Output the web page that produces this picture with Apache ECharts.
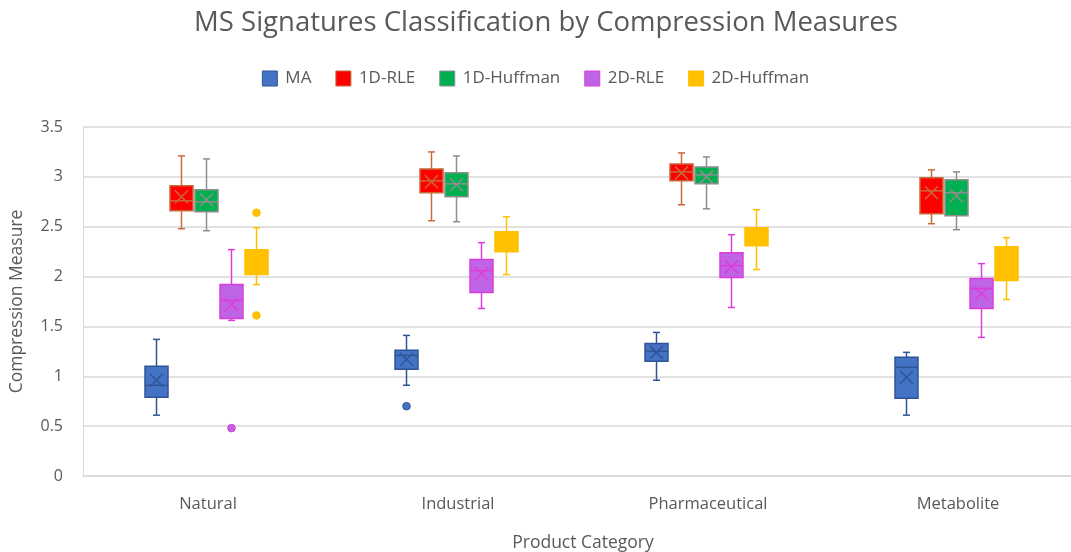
<!DOCTYPE html>
<html>
<head>
<meta charset="utf-8">
<script src="https://cdn.jsdelivr.net/npm/echarts@6/dist/echarts.min.js"></script>
<style>
html,body{margin:0;padding:0;background:#fff;}
#main{width:1071px;height:552px;}
</style>
</head>
<body>
<div id="main"></div>
<script>
// Categories
const categories = ['Natural', 'Industrial', 'Pharmaceutical', 'Metabolite'];
const seriesNames = ['MA', '1D-RLE', '1D-Huffman', '2D-RLE', '2D-Huffman'];
const yTicks = [0, 0.5, 1, 1.5, 2, 2.5, 3, 3.5];

// Box values per category: [min, Q1, median, Q3, max, mean]
const maBoxes = [
  [0.61, 0.79, 0.91, 1.10, 1.37, 0.96],
  [0.91, 1.07, 1.21, 1.26, 1.41, 1.17],
  [0.96, 1.15, 1.25, 1.33, 1.44, 1.24],
  [0.61, 0.78, 1.09, 1.19, 1.24, 0.99]
];
const rle1dBoxes = [
  [2.48, 2.66, 2.76, 2.91, 3.21, 2.80],
  [2.56, 2.84, 2.96, 3.08, 3.25, 2.95],
  [2.72, 2.96, 3.05, 3.13, 3.24, 3.04],
  [2.53, 2.63, 2.86, 2.99, 3.07, 2.84]
];
const huff1dBoxes = [
  [2.46, 2.65, 2.75, 2.87, 3.18, 2.77],
  [2.55, 2.80, 2.93, 3.04, 3.21, 2.92],
  [2.68, 2.93, 3.02, 3.10, 3.20, 3.00],
  [2.47, 2.61, 2.84, 2.97, 3.05, 2.81]
];
const rle2dBoxes = [
  [1.56, 1.58, 1.76, 1.92, 2.27, 1.72],
  [1.68, 1.84, 2.06, 2.17, 2.34, 2.03],
  [1.69, 1.99, 2.11, 2.24, 2.42, 2.10],
  [1.39, 1.68, 1.88, 1.98, 2.13, 1.83]
];
const huff2dBoxes = [
  [1.92, 2.02, 2.14, 2.27, 2.49, 2.14],
  [2.02, 2.25, 2.35, 2.45, 2.60, 2.34],
  [2.07, 2.31, 2.40, 2.49, 2.67, 2.40],
  [1.77, 1.96, 2.12, 2.30, 2.39, 2.11]
];

// Outliers: [categoryIndex, value]
const maOutliers = [[1, 0.70]];
const rle2dOutliers = [[0, 0.48]];
const huff2dOutliers = [[0, 2.64], [0, 1.61]];

const styles = [
  {fill: '#4472C4', stroke: '#2F5597'},
  {fill: '#FF0000', stroke: '#C8693A'},
  {fill: '#00B050', stroke: '#8E8E8E'},
  {fill: '#BE64E4', stroke: '#DC3CDC'},
  {fill: '#FFC000', stroke: '#FFC000'}
];
const offsets = [-51.5, -26.5, -1.5, 23.5, 48.5];
const BOX_W = 23;
const CAP_W = 7;

function boxRender(si) {
  return function (params, api) {
    const cat = api.value(0);
    const cx = api.coord([cat, 0])[0] + offsets[si];
    const yMin = api.coord([cat, api.value(1)])[1];
    const yQ1 = api.coord([cat, api.value(2)])[1];
    const yMed = api.coord([cat, api.value(3)])[1];
    const yQ3 = api.coord([cat, api.value(4)])[1];
    const yMax = api.coord([cat, api.value(5)])[1];
    const yMean = api.coord([cat, api.value(6)])[1];
    const st = styles[si];
    const ls = {stroke: st.stroke, lineWidth: 1.5, fill: null};
    const half = BOX_W / 2;
    const xh = 6.5, yh = 6.5;
    return {
      type: 'group',
      children: [
        {type: 'line', shape: {x1: cx, y1: yMax, x2: cx, y2: yQ3}, style: ls},
        {type: 'line', shape: {x1: cx, y1: yQ1, x2: cx, y2: yMin}, style: ls},
        {type: 'line', shape: {x1: cx - CAP_W / 2, y1: yMax, x2: cx + CAP_W / 2, y2: yMax}, style: ls},
        {type: 'line', shape: {x1: cx - CAP_W / 2, y1: yMin, x2: cx + CAP_W / 2, y2: yMin}, style: ls},
        {type: 'rect', shape: {x: cx - half, y: yQ3, width: BOX_W, height: yQ1 - yQ3},
          style: {fill: st.fill, stroke: st.stroke, lineWidth: 1.5}},
        {type: 'line', shape: {x1: cx - half, y1: yMed, x2: cx + half, y2: yMed}, style: ls},
        {type: 'line', shape: {x1: cx - xh, y1: yMean - yh, x2: cx + xh, y2: yMean + yh}, style: ls},
        {type: 'line', shape: {x1: cx - xh, y1: yMean + yh, x2: cx + xh, y2: yMean - yh}, style: ls}
      ]
    };
  };
}
function outlierRender(si) {
  return function (params, api) {
    const cat = api.value(0);
    const p = api.coord([cat, api.value(1)]);
    const st = styles[si];
    return {
      type: 'circle',
      shape: {cx: p[0] + offsets[si], cy: p[1], r: 3.8},
      style: {fill: st.fill, stroke: st.stroke, lineWidth: 1}
    };
  };
}

const boxSets = [maBoxes, rle1dBoxes, huff1dBoxes, rle2dBoxes, huff2dBoxes];
const outlierSets = [maOutliers, [], [], rle2dOutliers, huff2dOutliers];

const series = [];
boxSets.forEach(function (set, si) {
  series.push({
    name: seriesNames[si],
    type: 'custom',
    renderItem: boxRender(si),
    itemStyle: {color: styles[si].fill, borderColor: styles[si].stroke, borderWidth: 1},
    encode: {x: 0, y: [1, 2, 3, 4, 5, 6]},
    data: set.map(function (v, ci) { return [ci].concat(v); }),
    clip: false
  });
});
outlierSets.forEach(function (set, si) {
  if (!set.length) return;
  series.push({
    name: seriesNames[si],
    type: 'custom',
    renderItem: outlierRender(si),
    itemStyle: {color: styles[si].fill, borderColor: styles[si].stroke, borderWidth: 1},
    encode: {x: 0, y: 1},
    data: set,
    clip: false
  });
});

const FONT = '"Open Sans", "Noto Sans", sans-serif';
const chart = echarts.init(document.getElementById('main'), null, {renderer: 'canvas'});
chart.setOption({
  animation: false,
  backgroundColor: '#ffffff',
  title: {
    text: 'MS Signatures Classification by Compression Measures',
    left: 541, top: 4, textAlign: 'center',
    textStyle: {fontFamily: FONT, fontSize: 27.5, fontWeight: 'normal', color: '#595959'}
  },
  legend: {
    top: 65, left: 'center',
    icon: 'rect', itemWidth: 15, itemHeight: 15, itemGap: 24,
    textStyle: {fontFamily: FONT, fontSize: 17, color: '#595959', padding: [0, 0, 0, 3]},
    data: seriesNames.map(function (n, i) {
      return {name: n, itemStyle: {color: styles[i].fill, borderColor: styles[i].stroke, borderWidth: 1}};
    })
  },
  grid: {left: 83, top: 127, width: 1000, height: 349, containLabel: false, outerBoundsMode: 'none'},
  xAxis: {
    type: 'category',
    data: categories,
    boundaryGap: true,
    axisTick: {show: false},
    axisLine: {show: true, lineStyle: {color: '#D9D9D9', width: 1.5}},
    axisLabel: {fontFamily: FONT, fontSize: 16.5, color: '#595959', margin: 20},
    name: 'Product Category',
    nameLocation: 'middle',
    nameGap: 58,
    nameTextStyle: {fontFamily: FONT, fontSize: 17.5, color: '#595959'}
  },
  yAxis: {
    type: 'value',
    min: 0, max: 3.5, interval: 0.5,
    axisLine: {show: true, lineStyle: {color: '#D9D9D9', width: 1}},
    axisTick: {show: false},
    splitLine: {lineStyle: {color: '#D9D9D9', width: 1.5}},
    axisLabel: {fontFamily: FONT, fontSize: 16, color: '#595959', margin: 20,
      formatter: function (v) { return yTicks.indexOf(v) >= 0 ? String(v) : ''; }},
    name: 'Compression Measure',
    nameLocation: 'middle',
    nameGap: 57,
    nameRotate: 90,
    nameTextStyle: {fontFamily: FONT, fontSize: 17.5, color: '#595959'}
  },
  series: series
});
</script>
</body>
</html>
